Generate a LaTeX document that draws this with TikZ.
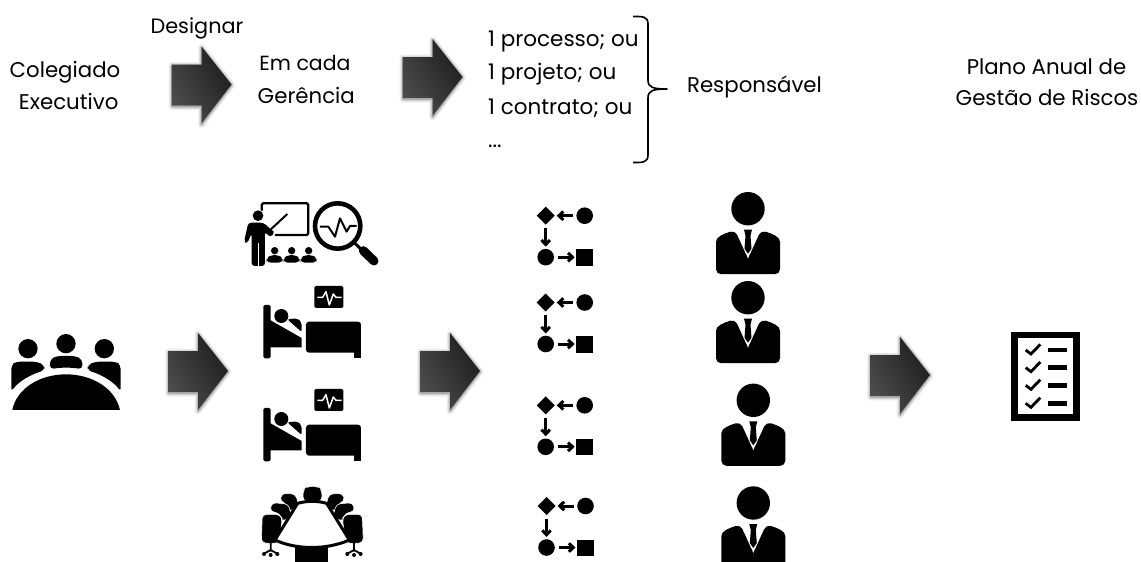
\documentclass[tikz,border=0pt]{standalone}
\usepackage{fontspec}
\setmainfont{Poppins}
\usetikzlibrary{arrows.meta}
\definecolor{arrL}{HTML}{4C4C4C}
\definecolor{arrD}{HTML}{1E1E1E}
\tikzset{
  lbl/.style={font=\fontsize{21.3}{24}\selectfont,text=black,inner sep=0pt,anchor=base},
  lblw/.style={font=\fontsize{21.5}{24}\selectfont,text=black,inner sep=0pt,anchor=base west},
  flowline/.style={line width=3pt,-{Straight Barb[length=4.5pt,width=8.5pt]}},
  zoomed/.style={x=0.3333pt,y=-0.3333pt},
  chair/.style={fill=black,draw=white,line width=0.6pt,rounded corners=4pt},
}
% block arrow: left x, top y
\newcommand{\blockarrow}[2]{%
 \begin{scope}[shift={(#1,#2)}]
  \foreach \w/\o in {7/0.05,5/0.07,3/0.1,1.5/0.14}{
    \draw[line width=\w pt,black,opacity=\o,line join=round]
      (0.5,19) -- (30,19) -- (30,1) -- (60,38.5) -- (30,78) -- (30,60) -- (0.5,60) -- cycle;}
  \shade[left color=arrL,right color=arrD,shading angle=120]
      (0,18) -- (30,18) -- (30,0) -- (60,38) -- (30,77) -- (30,59) -- (0,59) -- cycle;
 \end{scope}}
% flow icon: diamond centre
\newcommand{\flowicon}[2]{%
 \begin{scope}[shift={(#1,#2)}]
  \fill (-9,0) -- (0,-9) -- (9,0) -- (0,9) -- cycle;
  \fill (39,0) circle (8.3);
  \fill (0,41.5) circle (8.3);
  \fill (30.5,33.5) rectangle (47,50);
  \draw[flowline] (27.5,0) -- (11,0);
  \draw[flowline] (0,12.5) -- (0,31);
  \draw[flowline] (12.5,41.5) -- (29,41.5);
 \end{scope}}
% person: head centre
\newcommand{\personicon}[2]{%
 \begin{scope}[shift={(#1,#2)}]
  \fill (0,0) circle (16.7);
  \fill[rounded corners=5pt] (-32,65.5) -- (-32,38) .. controls (-32,28) and (-24,25) .. (-13,21.5)
     -- (0,50) -- (13,21.5) .. controls (24,25) and (32,28) .. (32,38) -- (32,65.5) -- cycle;
  \fill[white] (-11.5,19) -- (11.5,19) -- (0,50) -- cycle;
  \fill (-4,21) -- (4,21) -- (2.5,27) -- (3.5,40) -- (0,45) -- (-3.5,40) -- (-2.5,27) -- cycle;
 \end{scope}}
\newcommand{\bedicon}[2]{%
 \begin{scope}[shift={(#1,#2)},zoomed]
  \fill[rounded corners=1.5pt] (190,345) rectangle (212,505);
  \fill[rounded corners=1.5pt] (343,288) rectangle (430,354);
  \draw[white,line width=1.5pt,line join=round] (352,322) -- (368,322) -- (378,305) -- (388,345) -- (400,312) -- (408,322) -- (425,322);
  \fill (244,378) circle (21);
  \fill[rounded corners=2pt] (262,388) -- (292,385) -- (305,398) -- (305,426) -- cycle;
  \fill (210,390) -- (305,444) -- (305,472) -- (210,472) -- cycle;
  \fill[rounded corners=3pt] (318,395) rectangle (483,488);
  \fill (463,470) rectangle (483,505);
 \end{scope}}
\begin{document}
\begin{tikzpicture}[x=1pt,y=-1pt]
\useasboundingbox (0,0) rectangle (1141,562);
\fill[white] (0,0) rectangle (1141,562);
% top row
\node[lbl,font=\fontsize{20.8}{24}\selectfont] (desig) at (197,34) {Designar};
\node[lbl] (coleg) at (65,77.3) {Colegiado};
\node[lbl] (exec) at (68.7,109) {Executivo};
\node[lbl,font=\fontsize{20.5}{24}\selectfont] (emcada) at (305,70.7) {Em cada};
\node[lbl] (ger) at (306.3,103.3) {Gerência};
\node[lblw] (l1) at (488,46) {1 processo; ou};
\node[lblw] (l2) at (488,79.5) {1 projeto; ou};
\node[lblw] (l3) at (488,114) {1 contrato; ou};
\node[lblw] (l4) at (488,147) {...};
\node[lbl] (resp) at (754.5,92.7) {Responsável};
\node[lbl] (plano) at (1046.5,74.3) {Plano Anual de};
\node[lbl] (gestao) at (1047,105.7) {Gestão de Riscos};
\draw[line width=1.6pt,line join=round]
  (633,16.5) .. controls (642,16.5) and (648,16) .. (648,24) -- (648,80)
  .. controls (648,87) and (652,89) .. (667,89)
  .. controls (652,89) and (648,91) .. (648,98) -- (648,155)
  .. controls (648,163) and (642,162.5) .. (633,162.5);
% arrows
\blockarrow{171.5}{46.5}
\blockarrow{402.5}{39}
\blockarrow{168}{333}
\blockarrow{420}{333}
\blockarrow{870}{337}
% meeting icon
\begin{scope}[shift={(0,310)},zoomed]
  \fill (84,116) circle (29);
  \fill (198,101) circle (29);
  \fill (313,116) circle (29);
  \fill (37,300) .. controls (50,235) and (120,193) .. (198,193) .. controls (276,193) and (346,235) .. (360,300) -- cycle;
  \fill[rounded corners=4pt] (34,245) -- (34,165) -- (48,155) -- (110,155) -- (133,165) -- (133,182) .. controls (95,192) and (55,215) .. (34,245) -- cycle;
  \fill[rounded corners=4pt] (362,245) -- (362,165) -- (348,155) -- (286,155) -- (263,165) -- (263,182) .. controls (301,192) and (341,215) .. (362,245) -- cycle;
  \fill[rounded corners=4pt] (150,178) -- (150,148) -- (170,138) -- (226,138) -- (247,148) -- (247,178) .. controls (215,172) and (182,172) .. (150,178) -- cycle;
\end{scope}
% teacher icon
\begin{scope}[shift={(200,190)},zoomed]
  \draw[line width=2.3pt,rounded corners=1.5pt] (185,62) -- (185,40) -- (325,40) -- (325,135) -- (225,135);
  \draw[line width=2pt] (262,72) -- (205,125);
  \fill (174,77) circle (16);
  \fill[rounded corners=3pt] (145,98) -- (190,98) -- (215,120) -- (225,128) -- (210,142) -- (195,125) -- (195,228) -- (155,228) -- (155,130) -- (142,160) -- (132,156) -- cycle;
  \draw[white,line width=1pt] (175,160) -- (175,228);
  \foreach \x in {224,275,326}{
    \fill (\x,182) circle (11);
    \fill[rounded corners=4pt] (\x-24,218) -- (\x-24,205) -- (\x-12,195) -- (\x+12,195) -- (\x+24,205) -- (\x+24,218) -- cycle;}
  \draw[line width=4.6pt] (413,108) circle (68);
  \draw[line width=2pt,line join=round] (360,110) -- (385,110) -- (405,140) -- (420,85) -- (440,125) -- (450,108) -- (470,108);
  \draw[line width=3pt] (465,160) -- (490,184);
  \draw[line width=9pt,line cap=round] (490,182) -- (522,213);
\end{scope}
% beds
\bedicon{200}{190}
\bedicon{200}{293}
% conference table
\begin{scope}[shift={(220,470)},zoomed]
   \clip (0,0) rectangle (450,276);
   \fill (225,230) rectangle (325,290);
   \fill[rounded corners=5pt] (250,95) -- (250,60) -- (262,50) -- (293,50) -- (305,60) -- (305,95) -- cycle;
   \foreach \s in {1,-1}{
   \begin{scope}[shift={(277,0)},xscale=\s]
    \path[chair] (40,110) -- (50,72) -- (92,70) -- (97,95) -- (78,100) -- (72,125) -- cycle;
    \path[chair] (62,140) -- (72,102) -- (122,98) -- (127,125) -- (100,128) -- (92,155) -- cycle;
    \path[chair] (100,218) -- (90,145) -- (100,133) -- (150,133) -- (153,218) -- (120,221) -- cycle;
    \draw[line width=1.8pt] (125,215) -- (125,245) (107,250) -- (125,240) -- (143,250);
    \fill (105,252) circle (6) (125,255) circle (6) (145,252) circle (6);
   \end{scope}}
   \draw[line width=3pt,line join=round,fill=white] (233,100) .. controls (262,92) and (292,92) .. (320,100) -- (388,210) .. controls (320,240) and (230,240) .. (165,210) -- cycle;
\end{scope}
% flow icons
\flowicon{545.7}{215.7}
\flowicon{545.7}{302.5}
\flowicon{545.7}{405.3}
\flowicon{546.5}{506}
% persons
\personicon{748}{208.7}
\personicon{748}{297.7}
\personicon{753.3}{400.3}
\personicon{753.3}{503}
% checklist
\begin{scope}[shift={(850,310)},zoomed]
  \fill (484,65) rectangle (690,332);
  \fill[white] (503,85) rectangle (670,312);
  \foreach \y in {120,173,226,280}{
    \draw[line width=2.8pt] (527,\y) -- (543,\y+12) -- (571,\y-17);
    \fill (595,\y-7) rectangle (651,\y+7);}
\end{scope}
\end{tikzpicture}
\end{document}
